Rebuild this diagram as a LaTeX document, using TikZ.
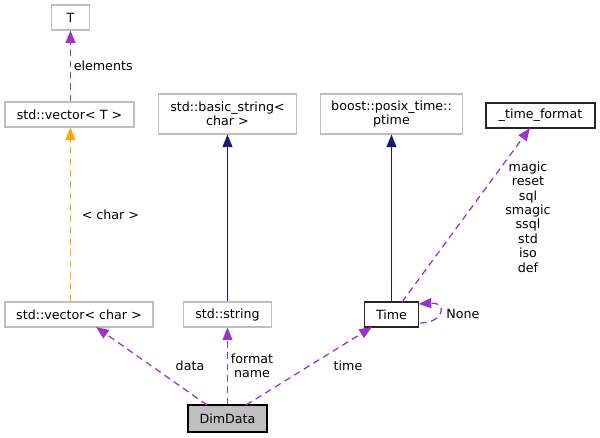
\documentclass[tikz,border=0pt]{standalone}
\usepackage{fontspec}
\setmainfont{DejaVu Sans}
\usetikzlibrary{arrows.meta}
\definecolor{pur}{HTML}{9A32CD}
\definecolor{nav}{HTML}{191970}
\definecolor{org}{HTML}{FFA500}
\definecolor{gborder}{HTML}{BFBFBF}
\begin{document}
\begin{tikzpicture}[x=0.75pt,y=-0.75pt,
  every node/.style={font=\fontsize{9.5}{10.8}\selectfont,text=black},
  cls/.style={draw=gborder,fill=white,line width=0.8pt,inner sep=0pt,align=center},
  blk/.style={draw=black!85,fill=white,line width=0.8pt,inner sep=0pt,align=center},
  tip/.style={-{Triangle[length=9.5pt,width=7.5pt]}},
  usearr/.style={pur,dash pattern=on 5pt off 3.5pt,line width=0.95pt,tip},
  inharr/.style={nav,line width=0.95pt,tip},
  tmplarr/.style={org,dash pattern=on 5pt off 3.5pt,line width=0.95pt,tip},
  lbl/.style={inner sep=0pt,align=center,text=black}]
\useasboundingbox (0,0) rectangle (600,437);
% nodes
\node[cls,minimum width=28.5pt,minimum height=18.75pt] (T) at (70.5,17.5) {T};
\node[cls,minimum width=96.75pt,minimum height=18.75pt] (vT) at (69.5,114.5) {std::vector< T >};
\node[cls,minimum width=103.5pt,minimum height=30pt] (bs) at (227.5,114) {std::basic\_string<\\char >};
\node[cls,minimum width=106.5pt,minimum height=30pt] (pt) at (391.5,114) {boost::posix\_time::\\ptime};
\node[blk,minimum width=81.75pt,minimum height=18.75pt] (tf) at (540.5,115.5) {\_time\_format};
\node[cls,minimum width=111pt,minimum height=18.75pt] (vc) at (79,314.5) {std::vector< char >};
\node[cls,minimum width=66pt,minimum height=18.75pt] (ss) at (227.5,314.5) {std::string};
\node[blk,minimum width=40.5pt,minimum height=18.75pt] (tm) at (391.5,314.5) {Time};
\node[draw=black,fill=gborder,line width=0.8pt,inner sep=0pt,minimum width=59.25pt,minimum height=20.25pt] (dd) at (227.5,418.5) {DimData};
% connectors
\draw[usearr] (vT.north -| T.south) -- (T.south) node[lbl,pos=0.5,right=2pt] {elements};
\draw[tmplarr] (vc.north -| T.south) -- (vT.south -| T.south) node[lbl,pos=0.5,right=8pt] {< char >};
\draw[inharr] (ss.north) -- (bs.south);
\draw[inharr] (tm.north) -- (pt.south);
\coordinate (tmtop) at (402,302);
\coordinate (tfbot) at (530,128);
\draw[usearr] (tmtop) -- (tfbot);
\node[lbl] at (528,217) {magic\\reset\\sql\\smagic\\ssql\\std\\iso\\def};
\coordinate (lpA) at (420,323);
\coordinate (lpB) at (418.5,304);
\draw[usearr] (lpA) .. controls (444,323) and (448,302) .. (lpB);
\node[lbl] at (463,313.5) {None};
\coordinate (ddA) at (207,405);
\coordinate (vcB) at (96,327);
\draw[usearr] (ddA) -- (vcB);
\node[lbl] at (190,365.5) {data};
\draw[usearr] (dd.north) -- (ss.south);
\node[lbl] at (252,365.5) {format\\name};
\coordinate (ddC) at (246,405);
\coordinate (tmB) at (372,327);
\draw[usearr] (ddC) -- (tmB);
\node[lbl] at (348,366) {time};
\end{tikzpicture}
\end{document}
